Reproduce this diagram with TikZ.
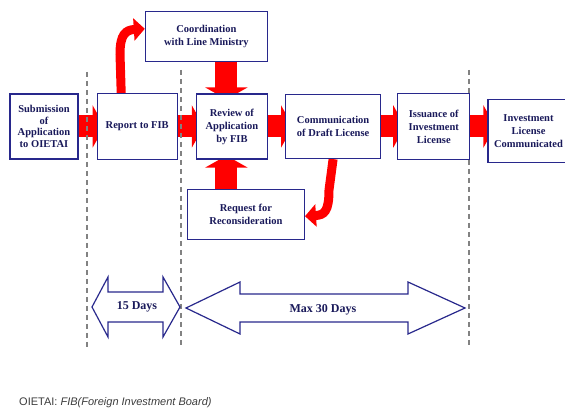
\documentclass[tikz,border=0pt]{standalone}
\usepackage{fontspec}
\setmainfont{Liberation Serif}
\setsansfont{Liberation Sans}
\usepackage{tikz}
\usetikzlibrary{arrows.meta, positioning, backgrounds}
\definecolor{boxblue}{RGB}{40, 40, 140}
\definecolor{textblue}{RGB}{25, 25, 90}
\definecolor{guidegray}{RGB}{130, 130, 130}
\definecolor{notegray}{RGB}{60, 60, 60}

\begin{document}
\begin{tikzpicture}[
    x=1pt, y=-1pt,
    node distance=17pt,
    box/.style={draw=boxblue, line width=1.2pt, fill=white, align=center, text=textblue, inner sep=2pt, font=\bfseries\fontsize{10.5}{13}\selectfont},
    flow/.style={draw=red, line width=22pt, -{Triangle[width=42pt,length=12pt]}},
    bendflow/.style={draw=red, line width=9pt, -{Triangle[width=22pt,length=11pt]}},
    guide/.style={draw=guidegray, line width=1.2pt, dash pattern=on 5pt off 4pt},
    span/.style={draw=boxblue, line width=1.2pt, fill=white, line join=miter},
    spanlabel/.style={text=textblue, font=\bfseries\fontsize{12}{14}\selectfont}
]
    \useasboundingbox (0,0) rectangle (565,411);

    % main chain
    \node[box, minimum width=68pt, minimum height=65pt, font=\bfseries\fontsize{10.5}{11.5}\selectfont] (sub) at (44,126.5) {Submission\\of\\Application\\to OIETAI};
    \node[box, minimum width=80pt, minimum height=66pt, right=18pt of sub] (rep) {Report to FIB};
    \node[box, minimum width=71pt, minimum height=65pt, right=18pt of rep] (rev) {Review of\\Application\\by FIB};
    \node[box, minimum width=95pt, minimum height=64pt, right=of rev] (com) {Communication\\of Draft License};
    \node[box, minimum width=72pt, minimum height=66pt, right=16pt of com] (iss) {Issuance of\\Investment\\License};
    \node[box, minimum width=81pt, minimum height=63pt, right=of iss, yshift=-4.5pt] (inv) {Investment\\License\\Communicated};

    % side boxes
    \node[box, minimum width=122pt, minimum height=50pt, above=31pt of rev.north east, anchor=south east] (coo) {Coordination\\with Line Ministry};
    \node[box, minimum width=117pt, minimum height=50pt, below=29pt of rev.south west, anchor=north west, xshift=-9pt] (rec) {Request for\\Reconsideration};

    \begin{scope}[on background layer]
        \draw[flow, shorten >=-8pt] (sub.east) -- (rep.west);
        \draw[flow, shorten >=-8pt] (rep.east) -- (rev.west);
        \draw[flow, shorten >=-8pt] (rev.east) -- (com.west);
        \draw[flow, shorten >=-8pt] (com.east) -- (iss.west);
        \draw[flow, shorten >=-8pt] (iss.east) -- (iss.east -| inv.west);
        \draw[flow, shorten >=-6pt] ([xshift=-5.5pt]rev.north |- coo.south) -- ([xshift=-5.5pt]rev.north);
        \draw[flow, shorten >=-4pt] ([xshift=-5.5pt]rev.south |- rec.north) -- ([xshift=-5.5pt]rev.south);
        \draw[bendflow] ([xshift=-16pt]rep.north) -- (120,54) .. controls (120,34) and (126,30) .. ([yshift=8pt]coo.west);
        \draw[bendflow] (com.south) -- (329,190) .. controls (329,212) and (324,215) .. ([yshift=-2pt]rec.east);

        % time limits
        \draw[guide] (87,72) -- (87,348);
        \draw[guide] (181,70) -- (181,348);
        \draw[guide] (469,70) -- (469,348);
    \end{scope}

    \draw[span] (92,307) -- (108,277) -- (108,292) -- (163,292) -- (163,277) -- (180,307) -- (163,337) -- (163,322) -- (108,322) -- (108,337) -- cycle;
    \node[spanlabel] (short) at (137,307) {15 Days};
    \draw[span] (186,308) -- (240,282) -- (240,294) -- (408,294) -- (408,282) -- (465,308) -- (408,334) -- (408,322) -- (240,322) -- (240,334) -- cycle;
    \node[spanlabel] (long) at (323,310) {Max 30 Days};

    \node[anchor=west, inner sep=0pt, text=notegray, font=\sffamily\fontsize{11}{13}\selectfont] (note) at (19,403) {OIETAI: \textit{FIB(Foreign Investment Board)}};
\end{tikzpicture}
\end{document}
